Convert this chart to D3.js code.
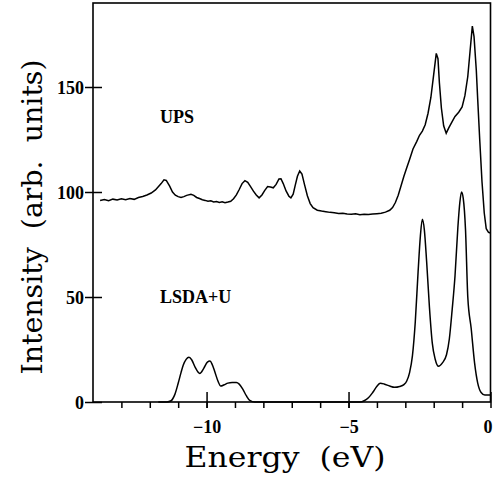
<!DOCTYPE html>
<meta charset="utf-8">
<style>
  body { margin: 0; background: #fff; }
  .tick text { font-family: "Liberation Serif", serif; font-weight: bold; font-size: 18px; fill: #000; }
  .domain { display: none; }
  .tick line { stroke: #000; stroke-width: 1.5; }
  .curve { fill: none; stroke: #000; stroke-width: 1.5; }
  .label { font-family: "Liberation Serif", serif; font-weight: bold; font-size: 18px; }
  .title { font-family: "DejaVu Serif", serif; font-size: 28px; white-space: pre; }
</style>
<body>
<script src="https://cdn.jsdelivr.net/npm/d3@7"></script>
<script>

var width = 493,
    height = 478;

// UPS spectrum (energy in eV, intensity)
var upsE = [-13.75,-13.6,-13.45,-13.3,-13.15,-13.0,-12.85,-12.7,-12.55,-12.4,-12.25,-12.1,-11.95,-11.8,-11.7,-11.6,-11.5,-11.42,-11.3,-11.2,-11.1,-11.0,-10.9,-10.8,-10.7,-10.55,-10.45,-10.35,-10.25,-10.15,-10.05,-9.95,-9.85,-9.75,-9.65,-9.55,-9.45,-9.35,-9.25,-9.15,-9.05,-8.95,-8.85,-8.75,-8.65,-8.55,-8.45,-8.35,-8.25,-8.15,-8.05,-7.95,-7.85,-7.75,-7.65,-7.55,-7.45,-7.38,-7.3,-7.2,-7.1,-7.03,-6.95,-6.88,-6.8,-6.72,-6.64,-6.55,-6.45,-6.35,-6.25,-6.1,-5.95,-5.8,-5.65,-5.5,-5.35,-5.2,-5.05,-4.9,-4.75,-4.6,-4.45,-4.3,-4.15,-4.0,-3.85,-3.7,-3.55,-3.45,-3.35,-3.25,-3.15,-3.05,-2.95,-2.85,-2.73,-2.6,-2.5,-2.4,-2.3,-2.2,-2.1,-2.0,-1.91,-1.85,-1.8,-1.73,-1.65,-1.56,-1.47,-1.37,-1.25,-1.12,-1.0,-0.9,-0.8,-0.72,-0.64,-0.58,-0.5,-0.45,-0.38,-0.3,-0.22,-0.15,-0.07,0.0];
var upsI = [96.0,96.4,95.9,96.6,96.2,96.8,96.3,96.9,96.5,97.4,97.9,98.6,99.5,101.0,102.5,104.0,105.8,105.5,102.8,100.0,98.5,97.8,97.4,97.8,98.4,98.9,98.4,97.4,96.9,96.3,96.0,95.6,95.8,95.3,95.5,95.0,95.3,94.9,95.2,95.6,96.8,98.6,101.2,104.0,105.4,104.6,102.6,100.4,98.6,97.2,98.6,100.8,102.6,102.4,102.0,103.6,106.2,106.3,104.0,100.5,98.0,97.2,99.0,103.0,107.5,110.0,108.5,103.5,98.2,94.5,92.5,91.3,90.9,90.6,90.3,90.1,89.8,89.9,89.5,89.4,89.6,89.2,89.4,89.3,89.5,89.7,89.9,90.4,91.3,92.6,95.0,98.5,103.0,107.5,111.5,115.5,120.5,124.0,127.0,129.0,132.0,137.5,145.0,156.0,166.0,163.5,152.0,140.0,131.5,128.0,130.5,133.0,136.0,138.0,140.5,146.0,155.0,167.0,179.0,174.0,158.0,144.0,125.0,105.0,90.0,82.5,80.8,80.5];

// LSDA+U density of states
var ldaE = [-11.7,-11.4,-11.25,-11.12,-11.0,-10.9,-10.82,-10.72,-10.62,-10.52,-10.4,-10.24,-10.1,-9.97,-9.88,-9.8,-9.71,-9.6,-9.5,-9.38,-9.25,-9.1,-8.95,-8.85,-8.72,-8.6,-8.48,-8.3,-4.6,-4.45,-4.3,-4.15,-4.0,-3.88,-3.75,-3.55,-3.38,-3.2,-3.05,-2.95,-2.85,-2.75,-2.65,-2.55,-2.47,-2.4,-2.33,-2.25,-2.15,-2.05,-1.95,-1.83,-1.7,-1.55,-1.45,-1.35,-1.25,-1.15,-1.08,-1.02,-0.96,-0.88,-0.8,-0.68,-0.56,-0.45,-0.33,-0.2,0.0];
var ldaI = [0,0,0.6,3.5,8.9,14,17.6,20.3,21.3,20.0,16.5,13.6,16.0,19.0,19.5,17.8,14.4,10.0,7.6,8.2,9.0,9.3,9.3,8.5,6.0,3.0,0.8,0,0,0.6,2.0,4.5,7.5,8.9,8.6,7.6,7.0,7.4,8.3,10.0,14.0,22.0,38.0,62.0,79.0,87.0,82.0,67.0,45.0,28.0,20.5,17.0,18.5,22.5,30.0,44.0,60.0,83.0,95.0,100.0,97.0,82.0,50.0,35.0,18.5,9.0,4.5,3.3,3.3];

var yTicks = [0, 50, 100, 150];
var xMajor = [-10, -5, 0];
var xMinor = d3.range(-13, 0, 1);

var svg = d3.select("body").append("svg")
    .attr("width", width)
    .attr("height", height);

var x = d3.scaleLinear().domain([-14, 0]).range([93, 490.5]);
var y = d3.scaleLinear().domain([0, 190]).range([402, 3]);

// frame
svg.append("rect")
    .attr("x", x(-14)).attr("y", y(190))
    .attr("width", x(0) - x(-14)).attr("height", y(0) - y(190))
    .attr("fill", "none").attr("stroke", "#000").attr("stroke-width", 1.6);

// y axis, ticks cross the frame
var yAxis = svg.append("g")
    .attr("transform", "translate(" + x(-14) + ",0)")
    .call(d3.axisLeft(y).tickValues(yTicks).tickFormat(d3.format("d")));
yAxis.selectAll(".tick line").attr("x1", -8).attr("x2", 9);
yAxis.selectAll(".tick text").attr("x", -9).attr("dy", "0.34em");

// x axis: minor ticks below, major ticks crossing
svg.append("g")
    .attr("transform", "translate(0," + y(0) + ")")
    .call(d3.axisBottom(x).tickValues(xMinor).tickSize(6).tickFormat(""));

var xAxis = svg.append("g")
    .attr("transform", "translate(0," + y(0) + ")")
    .call(d3.axisBottom(x).tickValues(xMajor).tickFormat(d3.format("d")));
xAxis.selectAll(".tick line").attr("y1", -10).attr("y2", 6);
xAxis.selectAll(".tick text").attr("y", 31).attr("dy", 0)
    .attr("x", function(d) { return d === 0 ? -3 : 0; });

var line = d3.line()
    .x(function(d) { return x(d[0]); })
    .y(function(d) { return y(d[1]); });

svg.append("path")
    .datum(d3.zip(upsE, upsI))
    .attr("class", "curve")
    .attr("d", line);

svg.append("path")
    .datum(d3.zip(ldaE, ldaI))
    .attr("class", "curve")
    .attr("d", line.curve(d3.curveMonotoneX));

svg.append("text").attr("class", "label").attr("x", 160).attr("y", 123).text("UPS");
svg.append("text").attr("class", "label").attr("x", 160).attr("y", 303).text("LSDA+U");

svg.append("text")
    .attr("class", "title")
    .attr("x", 285).attr("y", 467)
    .attr("text-anchor", "middle")
    .attr("textLength", 201).attr("lengthAdjust", "spacingAndGlyphs")
    .text("Energy  (eV)");

svg.append("text")
    .attr("class", "title")
    .attr("transform", "translate(42,217) rotate(-90)")
    .attr("text-anchor", "middle")
    .attr("textLength", 315).attr("lengthAdjust", "spacingAndGlyphs")
    .text("Intensity  (arb.  units)");

</script>
